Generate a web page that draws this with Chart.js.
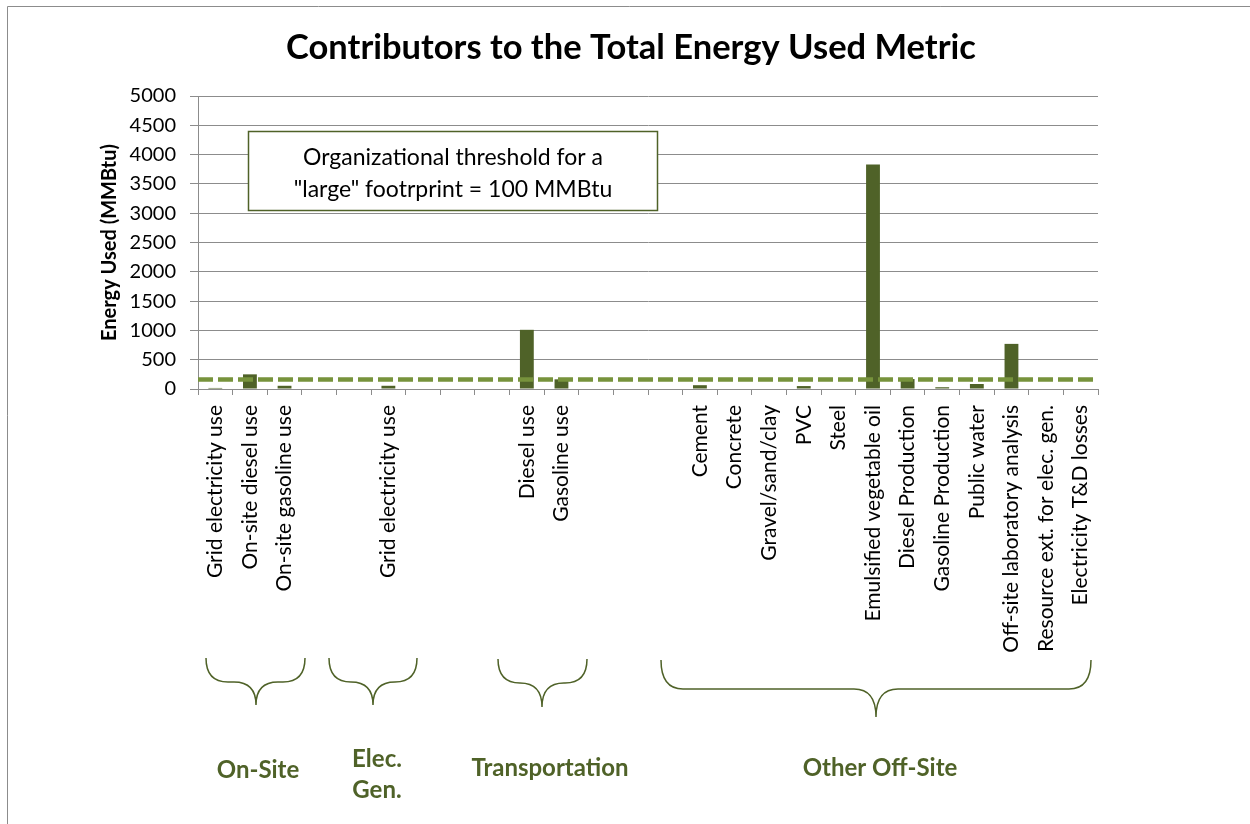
<!DOCTYPE html>
<html>
<head>
<meta charset="utf-8">
<script src="https://cdn.jsdelivr.net/npm/chart.js@4.4.1/dist/chart.umd.min.js"></script>
<style>
  html, body { margin: 0; padding: 0; background: #ffffff; overflow: hidden; }
  #wrap { position: relative; width: 1250px; height: 824px; }
</style>
</head>
<body>
<div id="wrap"><canvas id="c"></canvas></div>
<script>
// ---- Data ----
const categories = [
  "Grid electricity use", "On-site diesel use", "On-site gasoline use", "", "",
  "Grid electricity use", "", "", "",
  "Diesel use", "Gasoline use", "", "", "",
  "Cement", "Concrete", "Gravel/sand/clay", "PVC", "Steel",
  "Emulsified vegetable oil", "Diesel Production", "Gasoline Production",
  "Public water", "Off-site laboratory analysis", "Resource ext. for elec. gen.",
  "Electricity T&D losses"
];
const energyUsed = [
  18, 250, 55, null, null,
  55, null, null, null,
  1010, 165, null, null, null,
  65, 0, 0, 50, 0,
  3830, 170, 30,
  85, 770, 0,
  0
];
const thresholdLevel = 160;
const yMin = 0, yMax = 5000, yStep = 500;
const chartTitle = "Contributors to the Total Energy Used Metric";
const yAxisTitle = "Energy Used (MMBtu)";
const noteLines = ["Organizational threshold for a", "\"large\" footrprint = 100 MMBtu"];
const groupNames = ["On-Site", "Elec.|Gen.", "Transportation", "Other Off-Site"];

// ---- Styles / decoration geometry ----
const DARK = "#4F6228";
const LIGHT = "#77933C";
const GRID = "#8C8C8C";
const FONT = "Lato";

const braces = [
  { l: 206, r: 305, top: 658, mid: 682, tip: 705, tx: 256 },
  { l: 329, r: 417, top: 658, mid: 682, tip: 705, tx: 373 },
  { l: 498, r: 587, top: 659, mid: 683, tip: 707, tx: 542 },
  { l: 661, r: 1091, top: 660, mid: 689, tip: 717, tx: 876 }
];
const groupLabelPos = [
  { x: 258, y: [770] },
  { x: 377, y: [759, 790] },
  { x: 550, y: [768] },
  { x: 880, y: [768] }
];

const decorPlugin = {
  id: 'decor',
  afterDraw(chart) {
    const ctx = chart.ctx;
    ctx.save();
    // outer frame (left & top visible)
    ctx.strokeStyle = GRID;
    ctx.lineWidth = 1;
    ctx.beginPath();
    ctx.moveTo(7.5, 830);
    ctx.lineTo(7.5, 6.5);
    ctx.lineTo(1260, 6.5);
    ctx.stroke();

    // title
    ctx.fillStyle = "#000";
    ctx.font = "bold 34.5px " + FONT;
    ctx.textAlign = "center";
    ctx.textBaseline = "middle";
    ctx.fillText(chartTitle, 631, 48);

    // annotation box
    ctx.fillStyle = "#ffffff";
    ctx.fillRect(248, 131.5, 409, 79);
    ctx.strokeStyle = DARK;
    ctx.lineWidth = 1.5;
    ctx.strokeRect(248.5, 131.5, 409, 79);
    ctx.fillStyle = "#000";
    ctx.font = "23px " + FONT;
    ctx.textAlign = "center";
    ctx.textBaseline = "middle";
    ctx.fillText(noteLines[0], 453, 158);
    ctx.fillText(noteLines[1], 453, 190);

    // braces
    ctx.strokeStyle = DARK;
    ctx.lineWidth = 1.5;
    braces.forEach(b => {
      const rc = Math.min(b.mid - b.top, 22);
      const rt = Math.min(b.tip - b.mid, 22);
      ctx.beginPath();
      ctx.moveTo(b.l, b.top);
      ctx.quadraticCurveTo(b.l, b.mid, b.l + rc, b.mid);
      ctx.lineTo(b.tx - rt, b.mid);
      ctx.quadraticCurveTo(b.tx, b.mid, b.tx, b.tip);
      ctx.quadraticCurveTo(b.tx, b.mid, b.tx + rt, b.mid);
      ctx.lineTo(b.r - rc, b.mid);
      ctx.quadraticCurveTo(b.r, b.mid, b.r, b.top);
      ctx.stroke();
    });

    // group labels
    ctx.fillStyle = DARK;
    ctx.font = "bold 24px " + FONT;
    ctx.textAlign = "center";
    ctx.textBaseline = "middle";
    groupNames.forEach((name, i) => {
      const parts = name.split("|");
      parts.forEach((p, j) => ctx.fillText(p, groupLabelPos[i].x, groupLabelPos[i].y[j]));
    });
    ctx.restore();
  }
};

function make() {
  new Chart(document.getElementById('c'), {
    type: 'bar',
    data: {
      labels: categories,
      datasets: [
        {
          type: 'line',
          order: 0,
          xAxisID: 'xl',
          yAxisID: 'y',
          data: [{ x: 0, y: thresholdLevel }, { x: 1, y: thresholdLevel }],
          borderColor: LIGHT,
          borderWidth: 4.5,
          borderDash: [15, 5],
          pointRadius: 0,
          fill: false
        },
        {
          type: 'bar',
          order: 1,
          xAxisID: 'x',
          yAxisID: 'y',
          data: energyUsed,
          backgroundColor: DARK,
          borderWidth: 0,
          grouped: false,
          categoryPercentage: 1,
          barPercentage: 0.4
        }
      ]
    },
    options: {
      responsive: true,
      maintainAspectRatio: false,
      animation: false,
      layout: { padding: { left: 0, right: 152, top: 96, bottom: 0 } },
      plugins: {
        legend: { display: false },
        tooltip: { enabled: false },
        title: { display: false }
      },
      scales: {
        x: {
          type: 'category',
          offset: true,
          grid: { display: true, drawOnChartArea: false, offset: true, tickLength: 6, color: GRID },
          border: { color: GRID },
          ticks: {
            autoSkip: false, maxRotation: 90, minRotation: 90,
            color: '#000', font: { family: FONT, size: 21 }, padding: 10
          },
          afterFit(s) { s.height = 435; }
        },
        xl: {
          type: 'linear', display: false, offset: false, min: 0, max: 1,
          grid: { offset: false }
        },
        y: {
          min: yMin, max: yMax,
          ticks: {
            stepSize: yStep, color: '#000', font: { family: FONT, size: 20 }, padding: 14,
            callback: v => String(v)
          },
          grid: { color: GRID, tickLength: 8 },
          border: { color: GRID },
          title: {
            display: true, text: yAxisTitle, color: '#000',
            font: { family: FONT, size: 20, weight: 'bold', lineHeight: 1.2 },
            padding: { top: 98, bottom: 0 }
          },
          afterFit(s) { s.width = 198; }
        }
      }
    },
    plugins: [decorPlugin]
  });
}

if (document.fonts && document.fonts.load) {
  Promise.all([
    document.fonts.load("19px Lato"),
    document.fonts.load("bold 19px Lato")
  ]).then(make, make);
} else {
  make();
}
</script>
</body>
</html>
